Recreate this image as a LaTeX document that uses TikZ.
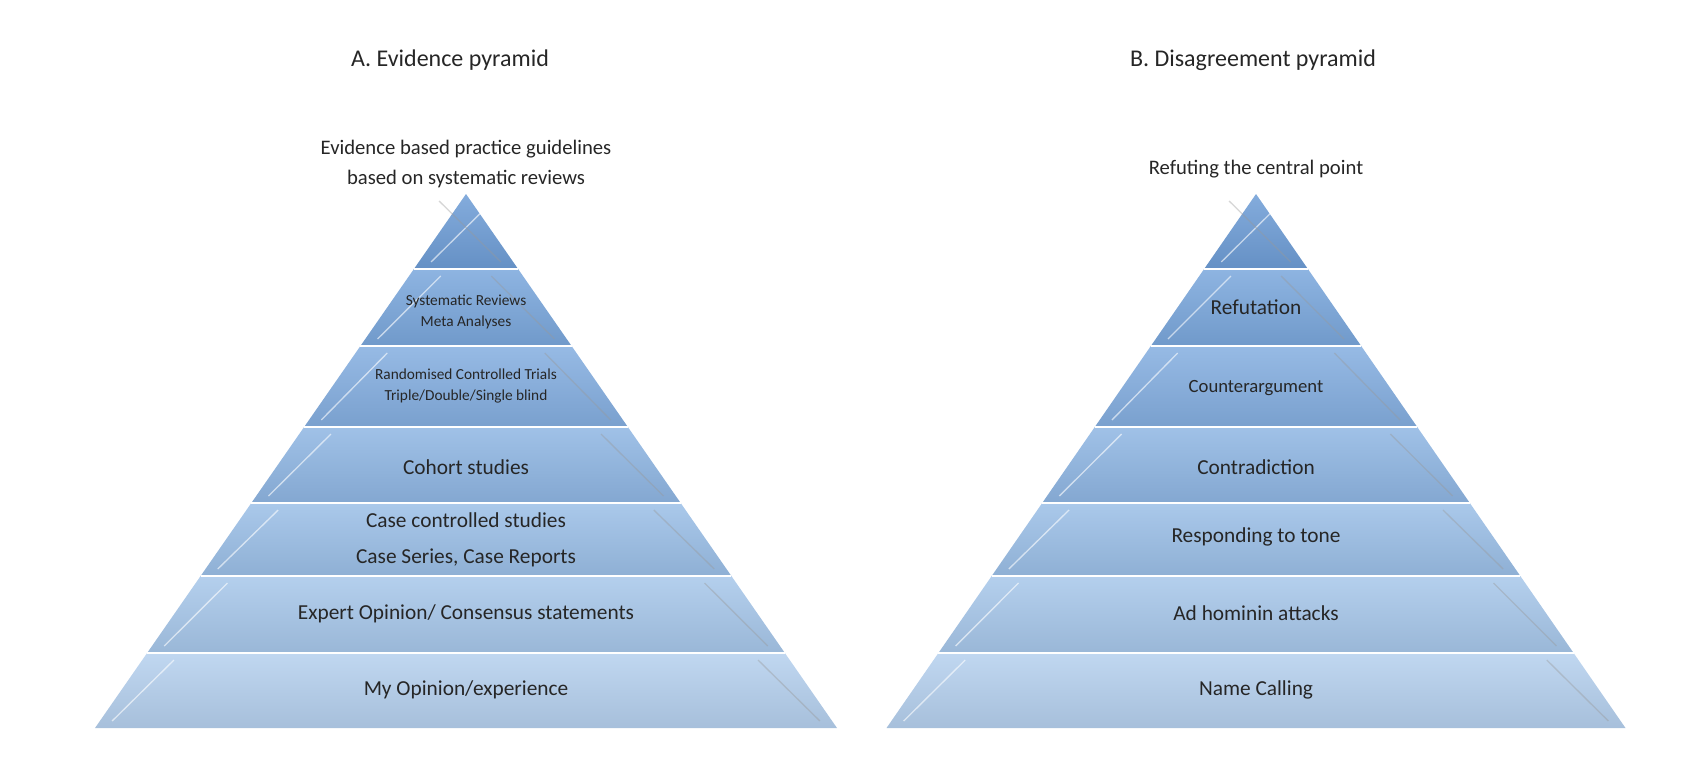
\documentclass[tikz,border=0pt]{standalone}
\usepackage{fontspec}
\setmainfont{Carlito}
\begin{document}
\begin{tikzpicture}[x=0.75pt,y=-0.75pt,
  lay/.style={draw=white, line width=1.2pt},
  txt/.style={font=\fontsize{16}{22}\selectfont, align=center, text=black!85},
  sm/.style={font=\fontsize{11.5}{16}\selectfont, align=center, text=black!85},
  ttl/.style={font=\fontsize{18}{22}\selectfont, text=black!85}]
\useasboundingbox (0,0) rectangle (1694,778);
\def\ys{{194,269,346,427,503,576,653,728}}
\definecolor{c0}{HTML}{6E9DD6}
\definecolor{c1}{HTML}{7AA7DC}
\definecolor{c2}{HTML}{84AEE0}
\definecolor{c3}{HTML}{8FB6E3}
\definecolor{c4}{HTML}{9BBFE7}
\definecolor{c5}{HTML}{A7C7EA}
\definecolor{c6}{HTML}{B5D0EE}
\foreach \cx/\hw in {466/371, 1256/369.5}{
  \foreach \i in {0,...,6}{
    \pgfmathsetmacro{\ya}{\ys[\i]}
    \pgfmathsetmacro{\yb}{\ys[\i+1]}
    \pgfmathsetmacro{\k}{\hw/534}
    \pgfmathsetmacro{\xal}{\cx-(\ya-194)*\k}
    \pgfmathsetmacro{\xar}{\cx+(\ya-194)*\k}
    \pgfmathsetmacro{\xbl}{\cx-(\yb-194)*\k}
    \pgfmathsetmacro{\xbr}{\cx+(\yb-194)*\k}
    \pgfmathsetmacro{\yat}{\ya+7}
    \pgfmathsetmacro{\ybt}{\yb-7}
    \pgfmathsetmacro{\xl}{\xal+(7)*\k+22}
    \pgfmathsetmacro{\xll}{\xbl-(7)*\k+22}
    \pgfmathsetmacro{\xr}{\xar-(7)*\k-22}
    \pgfmathsetmacro{\xrr}{\xbr+(7)*\k-22}
    \shade[top color=c\i!85!white, bottom color=c\i!92!black]
      (\xal,\ya) -- (\xar,\ya) -- (\xbr,\yb) -- (\xbl,\yb) -- cycle;
    \draw[lay] (\xal,\ya) -- (\xar,\ya);
    \draw[white, opacity=0.6, line width=1pt] (\xl,\yat) -- (\xll,\ybt);
    \draw[black!40, opacity=0.4, line width=1pt] (\xr,\yat) -- (\xrr,\ybt);
  }
}
\node[ttl] (ta) at (450,60) {A. Evidence pyramid};
\node[ttl] (tb) at (1253,60) {B. Disagreement pyramid};
\node[txt, font=\fontsize{15.5}{22.5}\selectfont] (topa) at (466,164) {Evidence based practice guidelines\\based on systematic reviews};
\node[txt, font=\fontsize{15.5}{20}\selectfont] (topb) at (1256,169) {Refuting the central point};
\node[sm] (a1) at (466,312) {Systematic Reviews\\Meta Analyses};
\node[sm] (a2) at (466,386) {Randomised Controlled Trials\\Triple/Double/Single blind};
\node[txt] (a3) at (466,467) {Cohort studies};
\node[txt, font=\fontsize{16}{27}\selectfont] (a4) at (466,540) {Case controlled studies\\Case Series, Case Reports};
\node[txt] (a5) at (466,614) {Expert Opinion/ Consensus statements};
\node[txt] (a6) at (466,690) {My Opinion/experience};
\node[txt] (b1) at (1256,307) {Refutation};
\node[txt, font=\fontsize{14}{18}\selectfont] (b2) at (1256,388) {Counterargument};
\node[txt] (b3) at (1256,467) {Contradiction};
\node[txt] (b4) at (1256,537) {Responding to tone};
\node[txt] (b5) at (1256,613) {Ad hominin attacks};
\node[txt] (b6) at (1256,690) {Name Calling};
\end{tikzpicture}
\end{document}
